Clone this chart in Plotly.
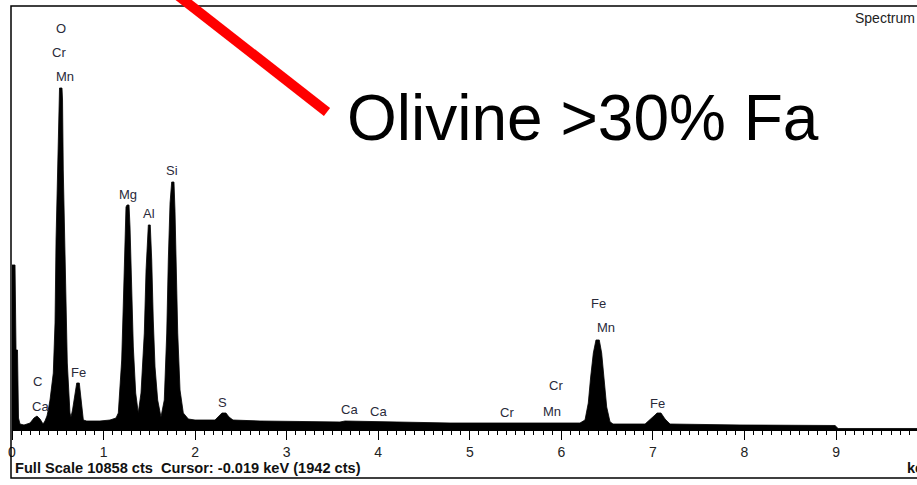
import plotly.graph_objects as go

# EDS spectrum: energy (keV) and counts, read channel by channel
energy_kev = [
    0.000, 0.033, 0.044, 0.060, 0.071, 0.087, 0.131, 0.197, 0.240, 0.273,
    0.306, 0.339, 0.360, 0.382, 0.396, 0.415, 0.451, 0.470, 0.481, 0.499,
    0.513, 0.519, 0.546, 0.552, 0.560, 0.576, 0.586, 0.604, 0.633, 0.644,
    0.661, 0.680, 0.707, 0.735, 0.761, 0.779, 0.816, 0.961, 1.070, 1.136,
    1.161, 1.198, 1.216, 1.234, 1.245, 1.256, 1.278, 1.289, 1.307, 1.325,
    1.351, 1.379, 1.409, 1.445, 1.464, 1.482, 1.489, 1.510, 1.526, 1.543,
    1.562, 1.591, 1.627, 1.663, 1.690, 1.707, 1.726, 1.744, 1.769, 1.780,
    1.791, 1.810, 1.835, 1.871, 1.926, 1.999, 2.217, 2.261, 2.293, 2.337,
    2.370, 2.414, 2.709, 3.145, 3.582, 3.637, 3.888, 4.238, 4.784, 5.876,
    6.203, 6.258, 6.294, 6.320, 6.349, 6.378, 6.414, 6.440, 6.469, 6.495,
    6.531, 6.564, 6.914, 6.968, 7.023, 7.045, 7.088, 7.132, 7.187, 7.951,
    8.989, 9.022, 9.884,
]
counts = [
    4210, 4210, 2028, 2028, 282, 128, 103, 154, 282, 334,
    257, 128, 205, 334, 488, 744, 1437, 2721, 4852, 6597,
    8112, 8753, 8753, 8445, 6649, 4852, 3388, 1694, 411, 308,
    488, 821, 1181, 1181, 565, 231, 205, 205, 231, 282,
    411, 1771, 3234, 4518, 5699, 5750, 5750, 5185, 3491, 2105,
    924, 411, 924, 2464, 4082, 5185, 5237, 5237, 4338, 2798,
    1592, 744, 308, 744, 2464, 4338, 5801, 6340, 6340, 5622,
    4082, 2464, 1001, 411, 257, 231, 231, 334, 411, 411,
    308, 231, 205, 193, 180, 205, 193, 167, 154, 154,
    154, 231, 667, 1335, 1951, 2285, 2285, 1951, 1258, 565,
    187, 128, 128, 231, 359, 411, 411, 257, 128, 103,
    90, 13, 13,
]
FULL_SCALE = 10858

# Element line labels (text, energy keV, counts height)
label_text = ["O", "Cr", "Mn", "Mg", "Al", "Si", "C", "Ca", "Fe", "S",
              "Ca", "Ca", "Cr", "Cr", "Mn", "Fe", "Mn", "Fe"]
label_kev = [0.535, 0.513, 0.579, 1.267, 1.496, 1.748, 0.273, 0.306, 0.721, 2.304,
             3.681, 4.008, 5.406, 5.941, 5.898, 6.400, 6.488, 7.055]
label_cts = [10268, 9652, 9036, 6007, 5519, 6623, 1232, 590, 1438, 693,
             488, 462, 436, 1104, 462, 3234, 2593, 667]

tick_vals = [0, 1, 2, 3, 4, 5, 6, 7, 8, 9]
tick_text = [str(v) for v in tick_vals]

FONT = "Arial, Liberation Sans, sans-serif"
W, H = 917, 485
ML, MR, MT, MB = 12, 0, 6, 56
PW, PH = W - ML - MR, H - MT - MB


def px(xp):
    return (xp - ML) / PW


def py(yp):
    return (H - MB - yp) / PH


fig = go.Figure()
fig.add_trace(go.Scatter(
    x=energy_kev, y=counts, mode="lines",
    line=dict(color="black", width=0.8),
    fill="tozeroy", fillcolor="black",
    hoverinfo="skip", showlegend=False,
))

annotations = []
for t, xv, yv in zip(label_text, label_kev, label_cts):
    annotations.append(dict(
        x=xv, y=yv, xref="x", yref="y", text=t, showarrow=False,
        xanchor="center", yanchor="middle",
        font=dict(family=FONT, size=13, color="#2a2a3a"),
    ))

annotations += [
    dict(x=px(13), y=py(468), xref="paper", yref="paper",
         text="<b>Full Scale 10858 cts  Cursor: -0.019 keV (1942 cts)</b>",
         showarrow=False, xanchor="left", yanchor="middle",
         font=dict(family=FONT, size=14.6, color="#111111")),
    dict(x=px(905), y=py(468), xref="paper", yref="paper", text="<b>keV</b>",
         showarrow=False, xanchor="left", yanchor="middle",
         font=dict(family=FONT, size=14.6, color="#111111")),
    dict(x=px(853), y=py(18), xref="paper", yref="paper", text="Spectrum 1",
         showarrow=False, xanchor="left", yanchor="middle",
         font=dict(family=FONT, size=14, color="#222222")),
    dict(x=px(583), y=py(118), xref="paper", yref="paper", text="Olivine >30% Fa",
         showarrow=False, xanchor="center", yanchor="middle",
         font=dict(family=FONT, size=64, color="black")),
]

shapes = [
    # outer frame around the spectrum panel
    dict(type="rect", xref="paper", yref="paper",
         x0=px(11), x1=px(930), y0=py(478), y1=py(6),
         line=dict(color="black", width=1.5), fillcolor="rgba(0,0,0,0)"),
    # red pointer stroke
    dict(type="line", xref="paper", yref="paper",
         x0=px(176), y0=py(-6), x1=px(327), y1=py(112),
         line=dict(color="#ff0000", width=10)),
]

fig.update_layout(
    width=W, height=H,
    margin=dict(l=ML, r=MR, t=MT, b=MB, pad=0),
    paper_bgcolor="white", plot_bgcolor="white",
    annotations=annotations, shapes=shapes,
    xaxis=dict(
        range=[0, 9.884], tickvals=tick_vals, ticktext=tick_text,
        ticks="outside", ticklen=9, tickwidth=1, tickcolor="black",
        minor=dict(dtick=0.1, tick0=0, ticks="outside", ticklen=4,
                   tickwidth=1, tickcolor="black"),
        showline=True, linecolor="black", linewidth=2,
        showgrid=False, zeroline=False,
        tickfont=dict(family=FONT, size=14, color="#222222"),
    ),
    yaxis=dict(range=[0, FULL_SCALE], visible=False, showgrid=False, zeroline=False),
)

fig.write_html("out.html")
